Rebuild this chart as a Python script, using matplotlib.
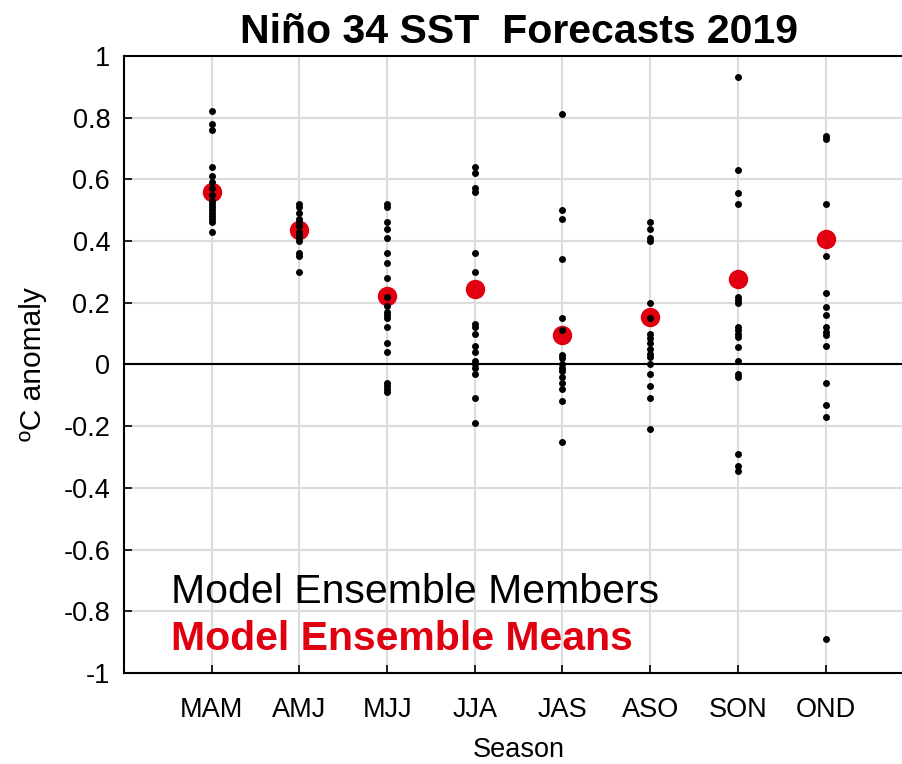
import numpy as np
import matplotlib
matplotlib.use("Agg")
import matplotlib.pyplot as plt

plt.rcParams['font.family'] = ['Liberation Sans', 'DejaVu Sans']

# ------------------------------------------
# data
# ------------------------------------------
seasons = ["MAM", "AMJ", "MJJ", "JJA", "JAS", "ASO", "SON", "OND"]

mam = [0.82, 0.78, 0.76, 0.64, 0.61, 0.59, 0.57, 0.55, 0.53, 0.52, 0.51,
       0.50, 0.49, 0.48, 0.47, 0.46, 0.43]
amj = [0.52, 0.51, 0.49, 0.47, 0.46, 0.45, 0.43, 0.42, 0.41, 0.40, 0.36,
       0.35, 0.30]
mjj = [0.52, 0.51, 0.46, 0.44, 0.41, 0.36, 0.33, 0.28, 0.22, 0.19, 0.17,
       0.16, 0.15, 0.12, 0.07, 0.04, -0.06, -0.07, -0.08, -0.09]
jja = [0.64, 0.62, 0.57, 0.56, 0.36, 0.30, 0.13, 0.12, 0.10, 0.06, 0.04,
       0.01, 0.0, -0.01, -0.03, -0.11, -0.19]
jas = [0.81, 0.50, 0.47, 0.34, 0.15, 0.11, 0.03, 0.02, 0.0, -0.01, -0.02,
       -0.04, -0.06, -0.08, -0.12, -0.25]
aso = [0.46, 0.44, 0.41, 0.40, 0.20, 0.15, 0.10, 0.085, 0.07, 0.05, 0.035,
       0.025, 0.0, -0.03, -0.07, -0.11, -0.21]
son = [0.93, 0.63, 0.555, 0.52, 0.22, 0.21, 0.20, 0.12, 0.11, 0.10, 0.09,
       0.055, 0.01, -0.03, -0.04, -0.29, -0.33, -0.345]
ond = [0.74, 0.73, 0.52, 0.35, 0.23, 0.185, 0.16, 0.12, 0.105, 0.095, 0.06,
       -0.06, -0.13, -0.17, -0.89]
members = [mam, amj, mjj, jja, jas, aso, son, ond]

means = [0.56, 0.435, 0.222, 0.244, 0.096, 0.155, 0.276, 0.406]

# ------------------------------------------
# plot
# ------------------------------------------
fig = plt.figure(figsize=(9.02, 7.64), dpi=100)
ax = fig.add_axes([0.1375, 0.119, 0.875, 0.808])

xpos = np.arange(1, len(seasons) + 1)

ax.plot(xpos, means, 'o', color='#e00010', markersize=14, zorder=3,
        markeredgewidth=0)
for i, vals in enumerate(members):
    ax.plot(np.full(len(vals), xpos[i]), vals, 'o', color='black',
            markersize=5, zorder=4, markeredgewidth=0)

ax.axhline(0, color='black', linewidth=1.5, zorder=2)

ax.set_xlim(0, 9)
ax.set_ylim(-1, 1)
ax.set_xticks(xpos)
ax.set_xticklabels(seasons)
ax.set_yticks(np.round(np.arange(-1, 1.01, 0.2), 1))
ax.set_yticklabels(["-1", "-0.8", "-0.6", "-0.4", "-0.2", "0", "0.2", "0.4",
                    "0.6", "0.8", "1"])
ax.grid(True, color='#dcdcdc', linewidth=1.5)
ax.set_axisbelow(True)
ax.tick_params(direction='in', length=6, width=1.2, labelsize=19.5)
ax.tick_params(axis='x', pad=17)
ax.tick_params(axis='y', pad=10)
for s in ax.spines.values():
    s.set_linewidth(1.5)

ax.set_title("Niño 34 SST  Forecasts 2019", fontsize=29.5, fontweight='bold',
             pad=9)
ax.set_xlabel("Season", fontsize=19.5, labelpad=10)
ax.set_ylabel("ºC anomaly", fontsize=21.5, labelpad=12)

ax.text(0.53, -0.773, "Model Ensemble Members", fontsize=29.5, color='black')
ax.text(0.53, -0.925, "Model Ensemble Means", fontsize=29.5,
        color='#e00010', fontweight='bold')

fig.savefig("out.png", dpi=100)
